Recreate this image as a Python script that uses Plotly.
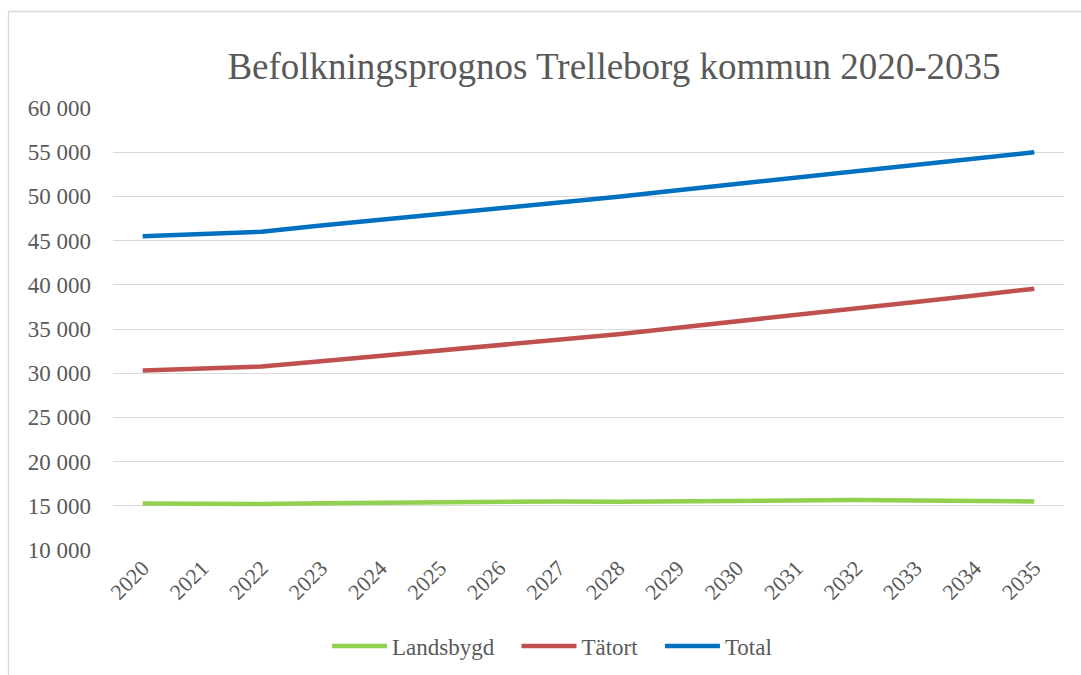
import plotly.graph_objects as go

years = [str(y) for y in range(2020, 2036)]
landsbygd = [15250, 15200, 15200, 15300, 15350, 15400, 15500, 15500, 15450, 15500, 15650, 15650, 15650, 15600, 15550, 15500]
tatort = [30300, 30500, 30750, 31350, 31950, 32550, 33150, 33750, 34400, 35150, 35850, 36550, 37300, 38050, 38800, 39550]
total = [45500, 45750, 46000, 46700, 47350, 48000, 48650, 49250, 49950, 50700, 51400, 52200, 52900, 53550, 54300, 55000]
y_ticks = list(range(10000, 60001, 5000))
y_labels = [f"{v:,}".replace(",", " ") for v in y_ticks]

series = [("Landsbygd", landsbygd, "#92D050"), ("Tätort", tatort, "#C0504D"), ("Total", total, "#0070C0")]

fig = go.Figure()
for i, (name, vals, col) in enumerate(series):
    pad = "\u00a0" * 3 if i < len(series) - 1 else ""
    fig.add_trace(go.Scatter(x=years, y=vals, name=name + pad, mode="lines",
                             line=dict(color=col, width=4.5)))

W, H = 1081, 675
L, R, T, B = 113, 17, 108, 125
pw, ph = W - L - R, H - T - B

def px(x):
    return (x - L) / pw

def py(y):
    return (H - B - y) / ph

FONT = "Liberation Serif, Times New Roman, serif"
fig.update_layout(
    width=W, height=H,
    margin=dict(l=L, r=R, t=T, b=B, autoexpand=False),
    paper_bgcolor="white", plot_bgcolor="white",
    font=dict(family=FONT, color="#595959", size=23),
    title=dict(text="Befolkningsprognos Trelleborg kommun 2020-2035",
               xref="container", x=614 / W, xanchor="center", y=1 - 66 / H, yanchor="middle",
               font=dict(size=37, color="#595959")),
    xaxis=dict(type="category", range=[-0.5, 15.5], showgrid=False, showline=False,
               tickangle=-45, ticks="", tickfont=dict(size=22), automargin=False),
    yaxis=dict(range=[10000, 60000], tickvals=y_ticks, ticktext=y_labels,
               showgrid=True, gridcolor="#D9D9D9", gridwidth=1.3, zeroline=False,
               showline=False, ticks="", ticklabelstandoff=21, tickfont=dict(size=23),
               automargin=False),
    legend=dict(orientation="h", xref="container", x=327 / W, xanchor="left",
                yref="container", y=1 - 646 / H, yanchor="middle",
                font=dict(size=23), itemwidth=55, bgcolor="rgba(0,0,0,0)"),
    showlegend=True,
    shapes=[
        dict(type="line", xref="paper", yref="paper", x0=px(8.5), x1=px(8.5), y0=py(11.5), y1=py(690),
             line=dict(color="#D9D9D9", width=1.3)),
        dict(type="line", xref="paper", yref="paper", x0=px(8.5), x1=px(1095), y0=py(11.5), y1=py(11.5),
             line=dict(color="#D9D9D9", width=1.3)),
    ],
)

fig.write_html("out.html", config={"displayModeBar": False},
               post_script="document.body.style.margin='0';document.body.style.overflow='hidden';")
